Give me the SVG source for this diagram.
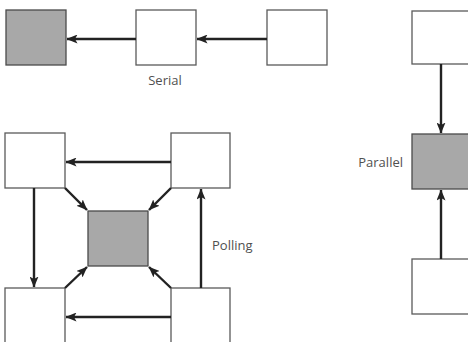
<svg xmlns="http://www.w3.org/2000/svg" width="468" height="342" viewBox="0 0 468 342">
  <style>
    .box { fill: #ffffff; stroke: #5a5a5a; stroke-width: 1.3; }
    .hub { fill: #a8a8a8; stroke: #4a4a4a; stroke-width: 1.3; }
    .link { stroke: #222222; stroke-width: 2.4; fill: none; marker-end: url(#head); }
    .label { font-family: "Open Sans", "Noto Sans", sans-serif; font-size: 13px; fill: #505050; }
  </style>
  <defs>
    <marker id="head" viewBox="0 0 11 9" refX="10.5" refY="4.5" markerWidth="11" markerHeight="9" orient="auto" markerUnits="userSpaceOnUse">
      <path d="M0,0 L11,4.5 L0,9 L2.5,4.5 Z" fill="#222222"/>
    </marker>
  </defs>
  <rect width="468" height="342" fill="#ffffff"/>

  <!-- Serial chain -->
  <g id="serial-hub"><rect class="hub" x="6" y="10" width="60" height="55"/></g>
  <g id="serial-mid"><rect class="box" x="136" y="10" width="60" height="55"/></g>
  <g id="serial-end"><rect class="box" x="267" y="10" width="60" height="55"/></g>
  <text class="label" x="165" y="85" text-anchor="middle">Serial</text>

  <!-- Polling ring -->
  <g id="poll-tl"><rect class="box" x="5" y="133" width="60" height="55"/></g>
  <g id="poll-tr"><rect class="box" x="171" y="133" width="59" height="55"/></g>
  <g id="poll-hub"><rect class="hub" x="88" y="211" width="60" height="55"/></g>
  <g id="poll-bl"><rect class="box" x="5" y="288" width="60" height="60"/></g>
  <g id="poll-br"><rect class="box" x="171" y="288" width="59" height="60"/></g>
  <text class="label" x="212" y="250">Polling</text>

  <!-- Parallel column -->
  <g id="par-top"><rect class="box" x="412" y="11" width="60" height="53"/></g>
  <g id="par-hub"><rect class="hub" x="412" y="134" width="60" height="55"/></g>
  <g id="par-bot"><rect class="box" x="412" y="259" width="60" height="55"/></g>
  <text class="label" x="403" y="167" text-anchor="end">Parallel</text>

  <g id="connectors">
    <line class="link" x1="136" y1="39" x2="67" y2="39"/>
    <line class="link" x1="267" y1="39" x2="197" y2="39"/>

    <line class="link" x1="171" y1="162" x2="66" y2="162"/>
    <line class="link" x1="34" y1="188" x2="34" y2="287"/>
    <line class="link" x1="201" y1="288" x2="201" y2="189"/>
    <line class="link" x1="171" y1="317" x2="66" y2="317"/>
    <line class="link" x1="65" y1="188" x2="87" y2="210"/>
    <line class="link" x1="171" y1="188" x2="149" y2="210"/>
    <line class="link" x1="65" y1="288" x2="87" y2="267"/>
    <line class="link" x1="171" y1="288" x2="149" y2="267"/>

    <line class="link" x1="441" y1="64" x2="441" y2="133"/>
    <line class="link" x1="441" y1="259" x2="441" y2="190"/>
  </g>
</svg>
